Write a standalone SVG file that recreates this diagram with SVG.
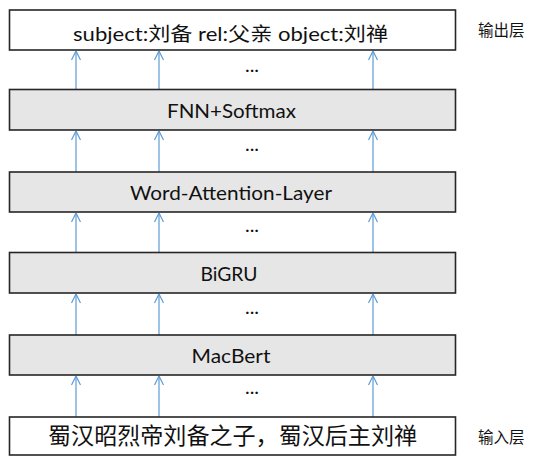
<svg xmlns="http://www.w3.org/2000/svg" width="533" height="456" viewBox="0 0 533 456">
<defs>
<style>
.box{stroke:#262626;stroke-width:1.6}
.io{fill:#ffffff}
.layer{fill:#e6e6e6}
.t{font-family:Lato,"Noto Sans","Noto Sans CJK SC",sans-serif;fill:#111;text-anchor:middle}
.side{font-family:"Noto Sans CJK SC",sans-serif;font-size:15.5px;fill:#111}
.dots{font-family:Lato,"Noto Sans",sans-serif;font-size:20px;fill:#111;text-anchor:middle}
.arr{stroke:#5b9bd5;stroke-width:1.2;fill:none;marker-end:url(#ah)}
</style>
<marker id="ah" viewBox="0 0 10 10" refX="10" refY="5" markerWidth="10" markerHeight="10" markerUnits="userSpaceOnUse" orient="auto">
<path d="M1,0.5 L10,5 L1,9.5" fill="none" stroke="#5b9bd5" stroke-width="1.2"/>
</marker>
</defs>
<g id="connectors">
<line class="arr" x1="76" y1="89" x2="76" y2="51"/>
<line class="arr" x1="159" y1="89" x2="159" y2="51"/>
<line class="arr" x1="373" y1="89" x2="373" y2="51"/>
<line class="arr" x1="76" y1="172" x2="76" y2="131"/>
<line class="arr" x1="159" y1="172" x2="159" y2="131"/>
<line class="arr" x1="373" y1="172" x2="373" y2="131"/>
<line class="arr" x1="76" y1="252" x2="76" y2="213"/>
<line class="arr" x1="159" y1="252" x2="159" y2="213"/>
<line class="arr" x1="373" y1="252" x2="373" y2="213"/>
<line class="arr" x1="76" y1="335" x2="76" y2="294"/>
<line class="arr" x1="159" y1="335" x2="159" y2="294"/>
<line class="arr" x1="373" y1="335" x2="373" y2="294"/>
<line class="arr" x1="76" y1="417" x2="76" y2="376"/>
<line class="arr" x1="159" y1="417" x2="159" y2="376"/>
<line class="arr" x1="373" y1="417" x2="373" y2="376"/>
<text class="dots" x="252" y="72">...</text>
<text class="dots" x="252" y="151">...</text>
<text class="dots" x="252" y="232">...</text>
<text class="dots" x="252" y="314">...</text>
<text class="dots" x="252" y="394">...</text>
</g>
<g id="output">
<rect class="box io" x="9.5" y="10" width="446" height="40"/>
<text class="t" x="230.5" y="41" font-size="19.5" textLength="315" lengthAdjust="spacingAndGlyphs">subject:刘备 rel:父亲 object:刘禅</text>
</g>
<g id="fnn">
<rect class="box layer" x="9.5" y="89.5" width="446" height="40.5"/>
<text class="t" x="231.5" y="118" font-size="19" textLength="129" lengthAdjust="spacingAndGlyphs">FNN+Softmax</text>
</g>
<g id="wal">
<rect class="box layer" x="9.5" y="172" width="446" height="40"/>
<text class="t" x="231" y="200" font-size="19" textLength="202" lengthAdjust="spacingAndGlyphs">Word-Attention-Layer</text>
</g>
<g id="bigru">
<rect class="box layer" x="9.5" y="252.5" width="446" height="40.5"/>
<text class="t" x="229" y="281" font-size="19" textLength="57" lengthAdjust="spacingAndGlyphs">BiGRU</text>
</g>
<g id="macbert">
<rect class="box layer" x="9.5" y="335" width="446" height="40"/>
<text class="t" x="231" y="363" font-size="19" textLength="79" lengthAdjust="spacingAndGlyphs">MacBert</text>
</g>
<g id="input">
<rect class="box io" x="9.5" y="417" width="446" height="38"/>
<text class="t" x="232.5" y="444" font-size="23" textLength="369" lengthAdjust="spacingAndGlyphs">蜀汉昭烈帝刘备之子，蜀汉后主刘禅</text>
</g>
<g id="label-out"><text class="side" x="478" y="36">输出层</text></g>
<g id="label-in"><text class="side" x="478" y="443">输入层</text></g>
</svg>
